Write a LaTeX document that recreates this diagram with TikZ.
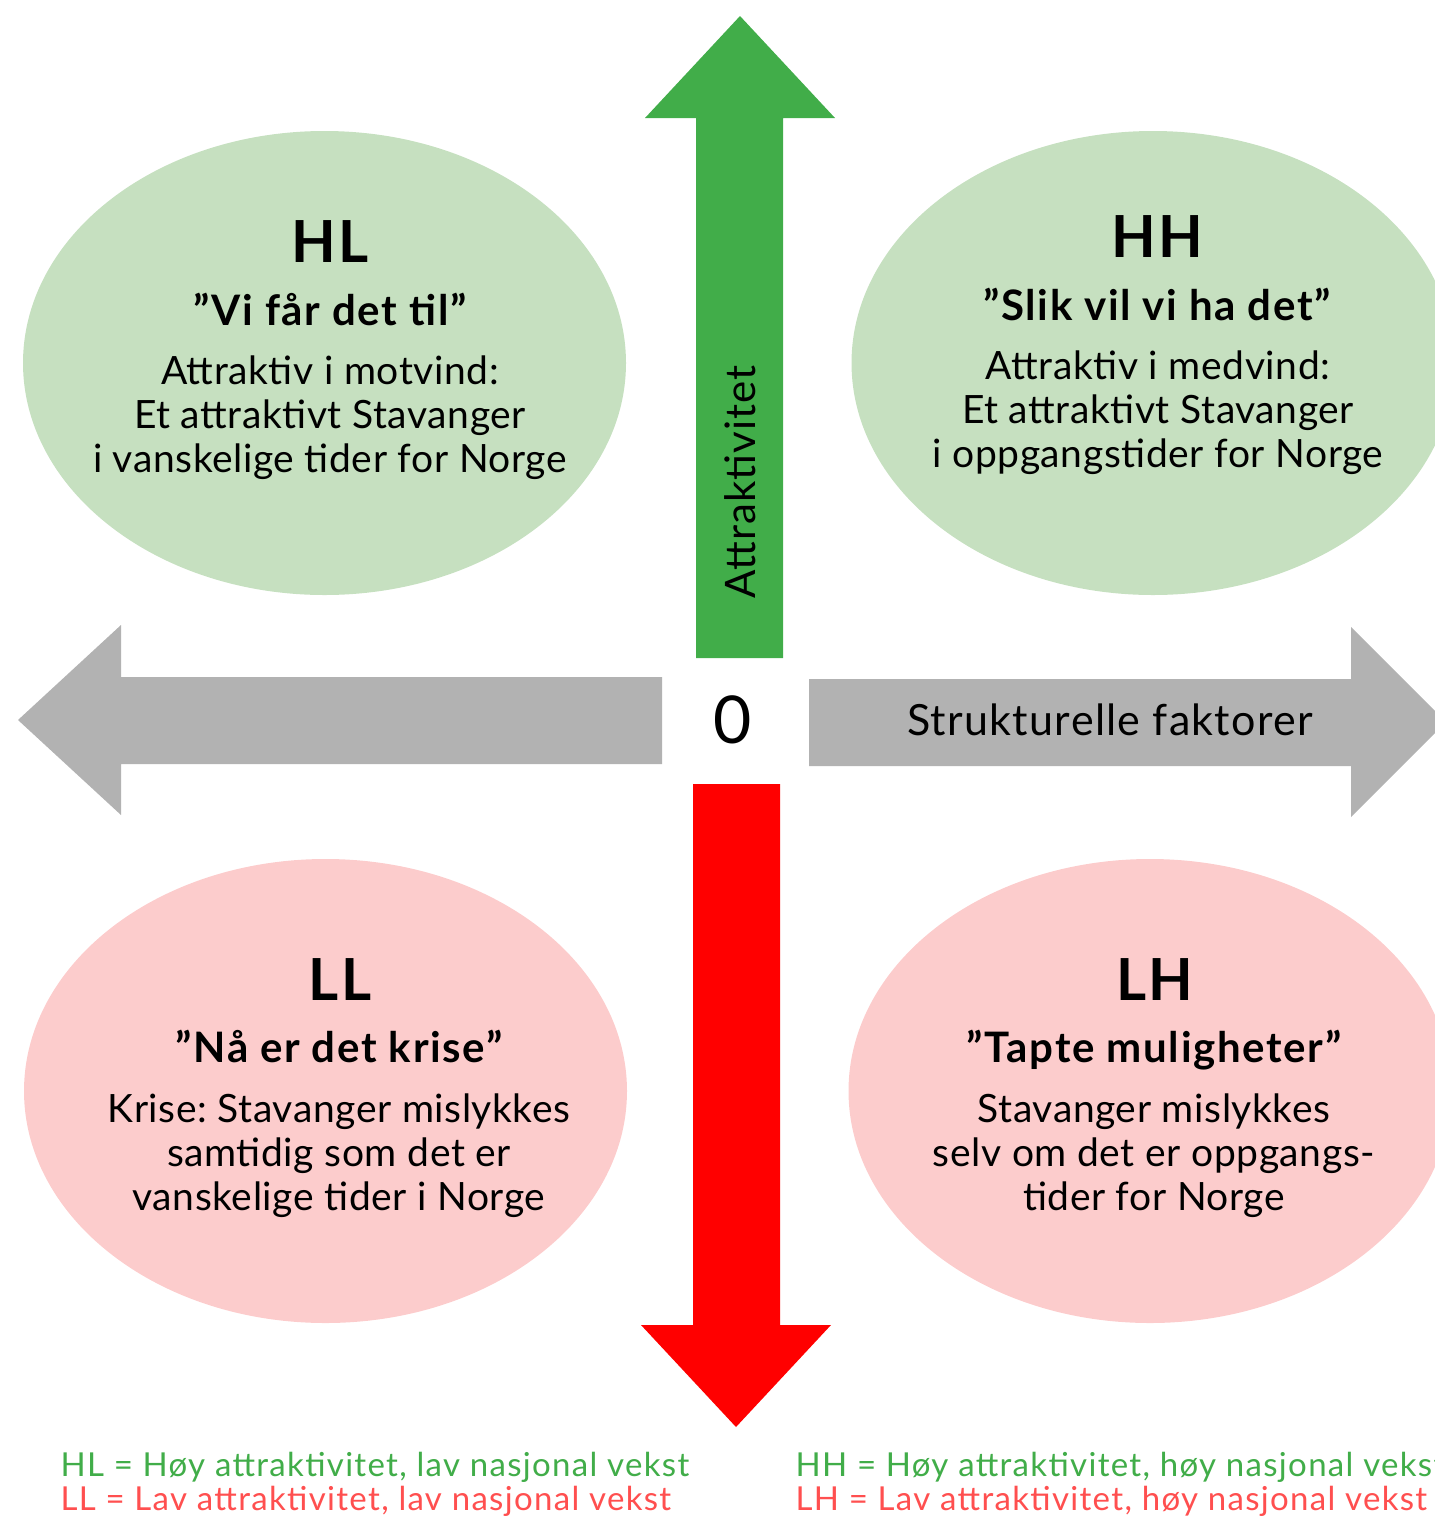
\documentclass[tikz,border=0pt]{standalone}
\usepackage{fontspec}
\setmainfont{Lato}
\frenchspacing
\usepackage{tikz}
\usetikzlibrary{positioning, shapes, arrows.meta, calc}

\definecolor{upgreen}{HTML}{41AD49}
\definecolor{downred}{HTML}{FF0000}
\definecolor{axisgray}{HTML}{B2B2B2}
\definecolor{softgreen}{HTML}{C6E0C0}
\definecolor{softred}{HTML}{FCCCCC}
\definecolor{keyred}{HTML}{FF4F4F}

\begin{document}
\begin{tikzpicture}[x=1pt, y=-1pt,
    blob/.style={ellipse, minimum width=603pt, minimum height=464pt, inner sep=0pt},
    quadtitle/.style={anchor=base, font=\fontsize{58}{64}\selectfont\bfseries\addfontfeatures{LetterSpace=4}},
    quadquote/.style={anchor=base, font=\fontsize{42}{48}\selectfont\bfseries\addfontfeatures{LetterSpace=4}},
    quadline/.style={anchor=base, font=\fontsize{39}{44}\selectfont\addfontfeatures{LetterSpace=1.5}},
    keyline/.style={anchor=base west, font=\fontsize{33}{37}\selectfont\addfontfeatures{LetterSpace=4}}]
                  \useasboundingbox (0,0) rectangle (1435,1516);
                  \clip (0,0) rectangle (1435,1516);

                  % Ellipses
                  \node[blob, fill=softgreen] (hl) at (324.5,363) {};
                  \node[blob, fill=softgreen] (hh) at (1153,363) {};
                  \node[blob, fill=softred] (ll) at (325.5,1091) {};
                  \node[blob, fill=softred] (lh) at (1150,1091) {};

                  % Arrows
                  \fill[upgreen] (696,658) -- (696,118) -- (645,118) -- (740,16) -- (835,118) -- (783,118) -- (783,658) -- cycle;
                  \fill[downred] (693,784) -- (693,1325) -- (641,1325) -- (736,1427) -- (831,1325) -- (780,1325) -- (780,784) -- cycle;
                  \fill[axisgray] (662,677) -- (121,677) -- (121,625) -- (18,720) -- (121,815) -- (121,764) -- (662,764) -- cycle;
                  \fill[axisgray] (809,679) -- (1351,679) -- (1351,627) -- (1446,722) -- (1351,817) -- (1351,766) -- (809,766) -- cycle;

                  % Axis labels
                  \node[font=\fontsize{42}{48}\selectfont\addfontfeatures{LetterSpace=2.5}, rotate=90] (attr) at (740,482) {Attraktivitet};
                  \node[font=\fontsize{66}{72}\selectfont] (zero) at (733,720) {0};
                  \node[font=\fontsize{43}{48}\selectfont\addfontfeatures{LetterSpace=3}] (struct) at (1110,720) {Strukturelle faktorer};

                  % HL
                  \node[quadtitle] (hltitle) at (330,262) {HL};
                  \node[quadquote] (hlquote) at (330,325) {”Vi får det til”};
                  \foreach \t [count=\i] in {Attraktiv i motvind:, Et attraktivt Stavanger, i vanskelige tider for Norge}
                  \node[quadline] (hl\i) at (330,340+44*\i) {\t};

                  % HH
                  \node[quadtitle] (hhtitle) at (1157,257) {HH};
                  \node[quadquote] (hhquote) at (1157,320) {”Slik vil vi ha det”};
                  \foreach \t [count=\i] in {Attraktiv i medvind:, Et attraktivt Stavanger, i oppgangstider for Norge}
                  \node[quadline] (hh\i) at (1158,335+44*\i) {\t};

                  % LL
                  \node[quadtitle] (lltitle) at (340,1000) {LL};
                  \node[quadquote] (llquote) at (339,1062) {”Nå er det krise”};
                  \foreach \t [count=\i] in {Krise: Stavanger mislykkes, samtidig som det er, vanskelige tider i Norge}
                  \node[quadline] (ll\i) at (339,1078+44*\i) {\t};

                  % LH
                  \node[quadtitle] (lhtitle) at (1155,1000) {LH};
                  \node[quadquote] (lhquote) at (1154,1062) {”Tapte muligheter”};
                  \foreach \t [count=\i] in {Stavanger mislykkes, selv om det er oppgangs-, tider for Norge}
                  \node[quadline] (lh\i) at (1154,1078+44*\i) {\t};

                  % Legend
                  \node[keyline, text=upgreen] (keyhl) at (57,1476) {HL = Høy attraktivitet, lav nasjonal vekst};
                  \node[keyline, text=keyred] (keyll) at (57,1510) {LL = Lav attraktivitet, lav nasjonal vekst};
                  \node[keyline, text=upgreen] (keyhh) at (792,1476) {HH = Høy attraktivitet, høy nasjonal vekst};
                  \node[keyline, text=keyred] (keylh) at (792,1510) {LH = Lav attraktivitet, høy nasjonal vekst};
              \end{tikzpicture}
\end{document}
